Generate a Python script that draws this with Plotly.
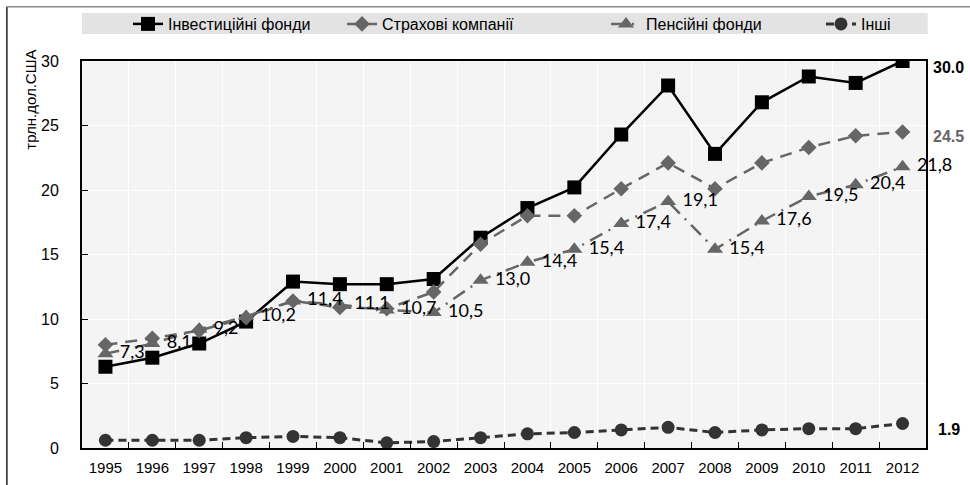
import plotly.graph_objects as go

years = [str(y) for y in range(1995, 2013)]
invest = [6.3, 7.0, 8.1, 9.8, 12.9, 12.7, 12.7, 13.1, 16.3, 18.6, 20.2, 24.3, 28.1, 22.8, 26.8, 28.8, 28.3, 30.0]
insur = [8.0, 8.5, 9.1, 10.1, 11.4, 10.9, 10.8, 12.1, 15.8, 18.0, 18.0, 20.1, 22.1, 20.1, 22.1, 23.3, 24.2, 24.5]
pension = [7.3, 8.1, 9.2, 10.2, 11.4, 11.1, 10.7, 10.5, 13.0, 14.4, 15.4, 17.4, 19.1, 15.4, 17.6, 19.5, 20.4, 21.8]
others = [0.6, 0.6, 0.6, 0.8, 0.9, 0.8, 0.4, 0.5, 0.8, 1.1, 1.2, 1.4, 1.6, 1.2, 1.4, 1.5, 1.5, 1.9]
pension_labels = ["\u00a0" + f"{v:.1f}".replace(".", ",") for v in pension]
names = ["Інвестиційні фонди", "Страхові компанії", "Пенсійні фонди", "Інші"]

NARROW = "Liberation Sans Narrow, Arial Narrow, Liberation Sans, sans-serif"

fig = go.Figure()
fig.add_trace(go.Scatter(x=years, y=invest, name=names[0], mode="lines+markers", legend="legend",
                         line=dict(color="#000000", width=2.5),
                         marker=dict(symbol="square", size=14, color="#000000")))
fig.add_trace(go.Scatter(x=years, y=insur, name=names[1], mode="lines+markers", legend="legend2",
                         line=dict(color="#666666", width=2.5, dash="12px,8px"),
                         marker=dict(symbol="diamond", size=12, color="#666666")))
fig.add_trace(go.Scatter(x=years, y=pension, name=names[2], mode="lines+markers+text", legend="legend3",
                         line=dict(color="#666666", width=2.5, dash="14px,7px,2px,7px"),
                         marker=dict(symbol="triangle-up", size=14, color="#666666"),
                         text=pension_labels, textposition="middle right",
                         textfont=dict(family="Lato, Carlito, sans-serif", size=18, color="#000000"),
                         cliponaxis=False))
fig.add_trace(go.Scatter(x=years, y=others, name=names[3], mode="lines+markers", legend="legend4",
                         line=dict(color="#333333", width=3, dash="8px,5px"),
                         marker=dict(symbol="circle", size=13, color="#333333")))

# end labels (x = index of the last category)
last = len(years) - 1
fig.add_annotation(x=last, y=invest[-1], text="<b>30.0</b>", showarrow=False,
                   xanchor="left", xshift=28, yshift=-6, font=dict(family=NARROW, size=16, color="#000000"))
fig.add_annotation(x=last, y=insur[-1], text="<b>24.5</b>", showarrow=False,
                   xanchor="left", xshift=28, yshift=-5, font=dict(family=NARROW, size=16, color="#666666"))
fig.add_annotation(x=last, y=others[-1], text="<b>1.9</b>", showarrow=False,
                   xanchor="left", xshift=33, yshift=-6, font=dict(family=NARROW, size=16, color="#000000"))

# y axis title
fig.add_annotation(xref="paper", yref="paper", x=-0.0604, y=0.9, xanchor="center", yanchor="middle",
                   text="трлн.дол.США", textangle=-90, showarrow=False,
                   font=dict(family=NARROW, size=15, color="#000000"))

# legend band and outer frame
fig.add_shape(type="rect", xref="paper", yref="paper", x0=0, x1=1.002, y0=1.07, y1=1.124,
              fillcolor="#e3e3e3", line=dict(width=0), layer="below")
fig.add_shape(type="line", xref="paper", yref="paper", x0=-0.089, x1=-0.089, y0=-0.2, y1=1.14,
              line=dict(color="#222222", width=1.5))
fig.add_shape(type="line", xref="paper", yref="paper", x0=-0.089, x1=1.1, y0=1.14, y1=1.14,
              line=dict(color="#888888", width=1.5))

leg_common = dict(orientation="h", xref="container", yref="container", y=1 - 24 / 485,
                  xanchor="left", yanchor="middle", bgcolor="rgba(0,0,0,0)",
                  font=dict(family=NARROW, size=16, color="#000000"))
leg_x = [128, 342, 606, 821]

fig.update_layout(
    width=970, height=485,
    margin=dict(l=82, r=44, t=61, b=37, autoexpand=False),
    paper_bgcolor="#ffffff", plot_bgcolor="#f4f4f4",
    showlegend=True,
    legend=dict(x=leg_x[0] / 970, **leg_common),
    legend2=dict(x=leg_x[1] / 970, **leg_common),
    legend3=dict(x=leg_x[2] / 970, **leg_common),
    legend4=dict(x=leg_x[3] / 970, **leg_common),
    font=dict(family=NARROW, size=15, color="#000000"),
)
fig.update_xaxes(type="category", range=[-0.5, 17.5], showgrid=True, gridcolor="#ffffff", gridwidth=1,
                 tickson="boundaries", ticks="inside", ticklen=6, tickcolor="#000000",
                 showline=True, linecolor="#000000", linewidth=2, mirror=True, automargin=False,
                 ticklabelstandoff=5, tickfont=dict(family=NARROW, size=15))
fig.update_yaxes(range=[0, 30], dtick=5, showgrid=True, gridcolor="#ffffff", gridwidth=1,
                 ticks="inside", ticklen=6, tickcolor="#000000", zeroline=False,
                 showline=True, linecolor="#000000", linewidth=2, mirror=True, automargin=False,
                 ticklabelstandoff=18, tickfont=dict(family=NARROW, size=16))

fig.write_html("out.html", config={"displayModeBar": False},
               post_script="document.body.style.margin='0';document.body.style.overflow='hidden';")
